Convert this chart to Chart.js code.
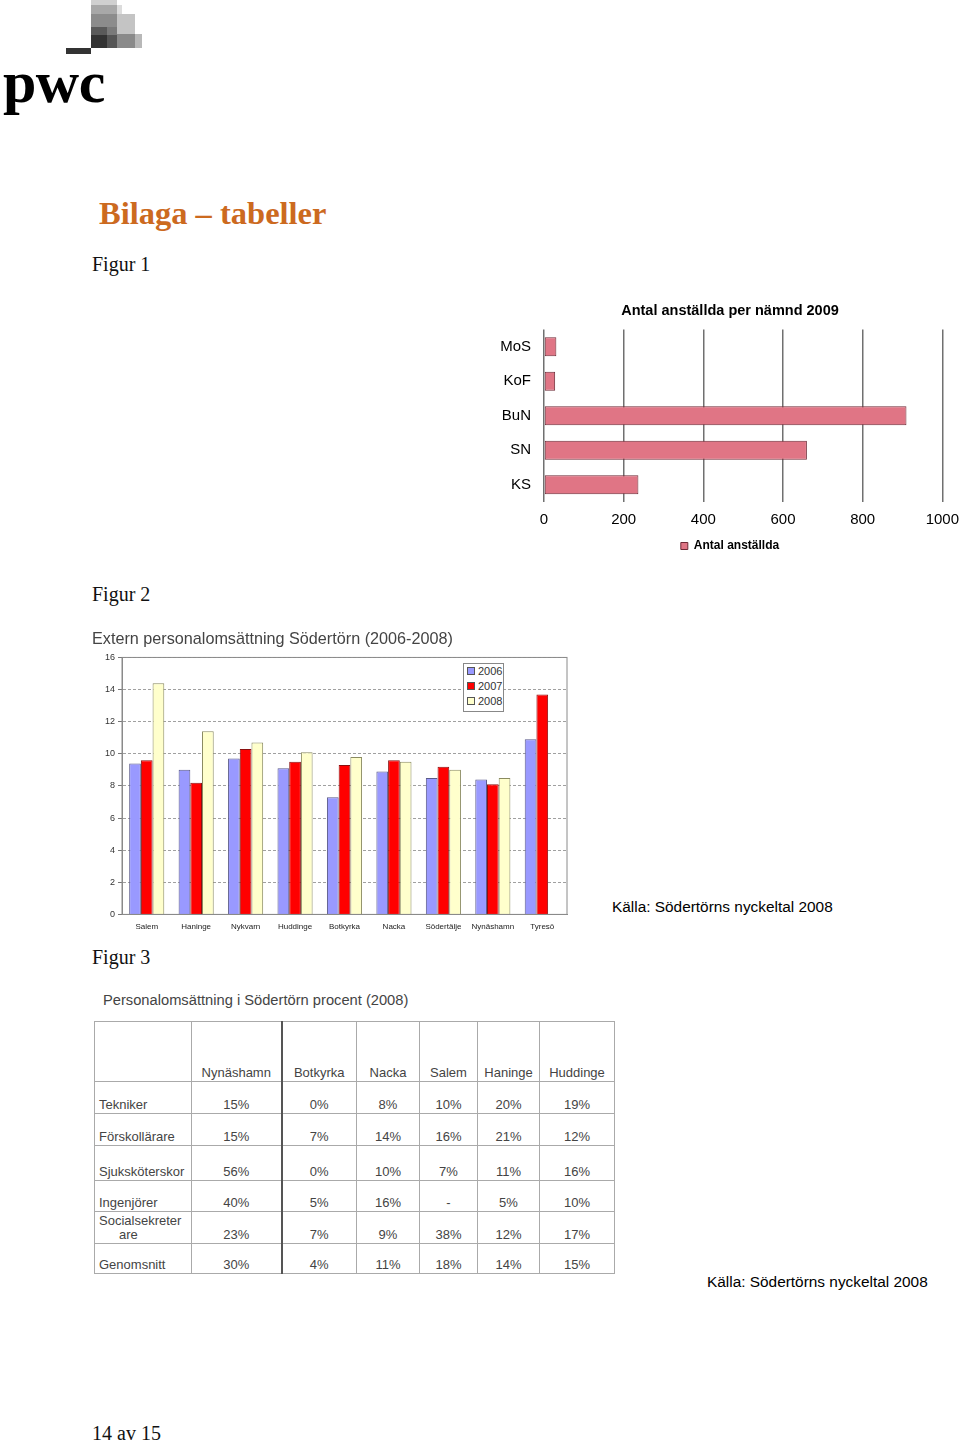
<!DOCTYPE html>
<html>
<head>
<meta charset="utf-8">
<script src="https://cdn.jsdelivr.net/npm/chart.js@4.4.1/dist/chart.umd.min.js"></script>
<style>
  html, body { margin: 0; padding: 0; background: #fff; }
  body { width: 960px; height: 1442px; position: relative; overflow: hidden; font-family: "Liberation Sans", Arial, sans-serif; }
  .abs { position: absolute; }
  .sq { position: absolute; }
  .serif { font-family: "Liberation Serif", "DejaVu Serif", serif; line-height: 1; white-space: nowrap; }
  .sans { font-family: "Liberation Sans", Arial, sans-serif; line-height: 1; white-space: nowrap; }
  #legend2 { position: absolute; left: 463px; top: 663px; width: 39px; height: 47px; border: 1px solid #888; background: #fff; font: 11px "Liberation Sans", Arial, sans-serif; color: #333; }
  #legend2 div { height: 15px; line-height: 15px; padding-left: 3px; white-space: nowrap; }
  #legend2 span { display: inline-block; width: 6px; height: 6px; border: 1px solid #555; margin-right: 3px; vertical-align: 0px; }
  #tbl { position: absolute; left: 94px; top: 1021px; border-collapse: collapse; table-layout: fixed; width: 520px; font: 13px "Liberation Sans", Arial, sans-serif; color: #444; }
  #tbl td { border: 1px solid #aaa; padding: 0 0 1px 0; vertical-align: bottom; text-align: center; line-height: 14px; overflow: visible; white-space: nowrap; }
  #tbl td.lbl { text-align: left; padding-left: 4px; }
  #tbl td.thick { border-right: 2px solid #555; }
</style>
</head>
<body>

<!-- logo -->
<div class="sq" style="left:91px;top:0;width:26px;height:5px;background:#d0d0d0"></div>
<div class="sq" style="left:91px;top:5px;width:26px;height:9px;background:#a8a8a8"></div>
<div class="sq" style="left:117px;top:5px;width:5px;height:9px;background:#dcdcdc"></div>
<div class="sq" style="left:91px;top:14px;width:26px;height:13px;background:#8c8c8c"></div>
<div class="sq" style="left:117px;top:14px;width:18px;height:20px;background:#c4c4c4"></div>
<div class="sq" style="left:91px;top:27px;width:16px;height:8px;background:#5a5a5a"></div>
<div class="sq" style="left:107px;top:27px;width:10px;height:8px;background:#7a7a7a"></div>
<div class="sq" style="left:91px;top:35px;width:16px;height:13px;background:#333"></div>
<div class="sq" style="left:107px;top:35px;width:10px;height:13px;background:#555"></div>
<div class="sq" style="left:117px;top:34px;width:18px;height:14px;background:#8a8a8a"></div>
<div class="sq" style="left:135px;top:34px;width:7px;height:14px;background:#b8b8b8"></div>
<div class="sq" style="left:66px;top:48px;width:25px;height:6px;background:#333"></div>
<div class="abs serif" style="left:3px;top:52px;font-size:60px;font-weight:bold;color:#000;letter-spacing:-0.5px">pwc</div>

<div class="abs serif" style="left:99px;top:197px;font-size:32.5px;font-weight:bold;color:#cc6a1f">Bilaga – tabeller</div>
<div class="abs serif" style="left:92px;top:254px;font-size:20px;color:#111">Figur 1</div>
<div class="abs serif" style="left:92px;top:584px;font-size:20px;color:#111">Figur 2</div>
<div class="abs serif" style="left:92px;top:947px;font-size:20px;color:#111">Figur 3</div>
<div class="abs serif" style="left:92px;top:1423px;font-size:20px;color:#111">14 av 15</div>

<div class="abs" style="left:480px;top:298px;width:488px;height:264px"><canvas id="fig1"></canvas></div>
<div class="abs" style="left:88px;top:628px;width:487px;height:304px"><canvas id="fig2"></canvas></div>
<div id="legend2"></div>

<div class="abs sans" style="left:612px;top:899px;font-size:15.4px;color:#000">Källa: Södertörns nyckeltal 2008</div>

<div class="abs sans" style="left:103px;top:993px;font-size:14.7px;color:#444">Personalomsättning i Södertörn procent (2008)</div>
<table id="tbl"></table>

<div class="abs sans" style="left:707px;top:1274px;font-size:15.4px;color:#000">Källa: Södertörns nyckeltal 2008</div>

<script>
// Figur 1
var namnder = ['MoS', 'KoF', 'BuN', 'SN', 'KS'];
var anstallda = [31, 28, 910, 660, 237];
var anstalldaTicks = [0, 200, 400, 600, 800, 1000];

// Figur 2
var kommuner = ['Salem', 'Haninge', 'Nykvarn', 'Huddinge', 'Botkyrka', 'Nacka', 'Södertälje', 'Nynäshamn', 'Tyresö'];
var ar = ['2006', '2007', '2008'];
var oms2006 = [9.4, 9.0, 9.7, 9.1, 7.3, 8.9, 8.5, 8.4, 10.9];
var oms2007 = [9.6, 8.2, 10.3, 9.5, 9.3, 9.6, 9.2, 8.1, 13.7];
var oms2008 = [14.4, 11.4, 10.7, 10.1, 9.8, 9.5, 9.0, 8.5, null];
var omsTicks = [0, 2, 4, 6, 8, 10, 12, 14, 16];

// Figur 3
var tabKommuner = ['Nynäshamn', 'Botkyrka', 'Nacka', 'Salem', 'Haninge', 'Huddinge'];
var yrken = ['Tekniker', 'Förskollärare', 'Sjuksköterskor', 'Ingenjörer', 'Socialsekreterare', 'Genomsnitt'];
var tekniker = ['15%', '0%', '8%', '10%', '20%', '19%'];
var forskollarare = ['15%', '7%', '14%', '16%', '21%', '12%'];
var sjukskoterskor = ['56%', '0%', '10%', '7%', '11%', '16%'];
var ingenjorer = ['40%', '5%', '16%', '-', '5%', '10%'];
var socialsekreterare = ['23%', '7%', '9%', '38%', '12%', '17%'];
var genomsnitt = ['30%', '4%', '11%', '18%', '14%', '15%'];

var sans = '"Liberation Sans", Arial, sans-serif';

new Chart(document.getElementById('fig1'), {
  type: 'bar',
  data: {
    labels: namnder,
    datasets: [{
      label: 'Antal anställda',
      data: anstallda,
      backgroundColor: '#e07585',
      borderColor: '#6e2a36',
      borderWidth: 1,
      borderSkipped: false,
      categoryPercentage: 0.55,
      barPercentage: 1.0
    }]
  },
  options: {
    indexAxis: 'y',
    responsive: true,
    maintainAspectRatio: false,
    animation: false,
    layout: { padding: { left: 12, right: 0, top: 0, bottom: 0 } },
    plugins: {
      title: {
        display: true,
        text: 'Antal anställda per nämnd 2009',
        color: '#000',
        font: { family: sans, size: 14.5, weight: 'bold' },
        padding: { top: 4, bottom: 10 }
      },
      legend: {
        position: 'bottom',
        labels: {
          color: '#000',
          font: { family: sans, size: 12, weight: 'bold' },
          boxWidth: 7,
          boxHeight: 7,
          padding: 2
        }
      },
      tooltip: { enabled: false }
    },
    scales: {
      x: {
        min: 0,
        max: 1000,
        afterBuildTicks: function (axis) {
          axis.ticks = anstalldaTicks.map(function (v) { return { value: v }; });
        },
        ticks: {
          color: '#000', font: { family: sans, size: 15 }, padding: 9,
          callback: function (v) { return String(v); }
        },
        grid: { color: '#707070', lineWidth: 1.5, drawTicks: false },
        border: { display: false }
      },
      y: {
        afterFit: function (axis) { axis.width = 52; },
        ticks: { color: '#000', font: { family: sans, size: 15 }, padding: 13 },
        grid: { display: false, drawTicks: false },
        border: { display: false }
      }
    }
  }
});

// frame around the plot area of figur 2
var frame = {
  id: 'frame',
  afterDraw: function (chart) {
    var a = chart.chartArea, c = chart.ctx;
    c.save();
    c.strokeStyle = '#8a8a8a';
    c.lineWidth = 1;
    c.strokeRect(a.left, a.top, a.right - a.left, a.bottom - a.top);
    c.restore();
  }
};

new Chart(document.getElementById('fig2'), {
  type: 'bar',
  data: {
    labels: kommuner,
    datasets: [
      { label: ar[0], data: oms2006, backgroundColor: '#9999ff', borderColor: '#5a5a8a' },
      { label: ar[1], data: oms2007, backgroundColor: '#ff0000', borderColor: '#8a1010' },
      { label: ar[2], data: oms2008, backgroundColor: '#ffffcc', borderColor: '#8a8a60' }
    ].map(function (d) {
      d.borderWidth = 1; d.borderSkipped = 'bottom';
      d.categoryPercentage = 0.71; d.barPercentage = 1.0;
      return d;
    })
  },
  options: {
    responsive: true,
    maintainAspectRatio: false,
    animation: false,
    layout: { padding: { left: 4, right: 8, top: 0, bottom: 0 } },
    plugins: {
      title: {
        display: true,
        align: 'start',
        text: 'Extern personalomsättning Södertörn (2006-2008)',
        color: '#444',
        font: { family: sans, size: 16.2, weight: 'normal' },
        padding: { top: 2, bottom: 8 }
      },
      legend: { display: false },
      tooltip: { enabled: false }
    },
    scales: {
      x: {
        ticks: { color: '#222', font: { family: sans, size: 8 }, padding: 0, maxRotation: 0, autoSkip: false },
        grid: { display: false },
        border: { color: '#8a8a8a' }
      },
      y: {
        min: 0,
        max: 16,
        afterBuildTicks: function (axis) {
          axis.ticks = omsTicks.map(function (v) { return { value: v }; });
        },
        afterFit: function (axis) { axis.width = 30; },
        ticks: { color: '#333', font: { family: sans, size: 9 }, padding: 3 },
        grid: { color: '#a0a0a0', tickLength: 4, tickColor: '#777', tickBorderDash: [] },
        border: { color: '#8a8a8a', dash: [3, 2] }
      }
    }
  },
  plugins: [frame]
});

// legend for figur 2
var legendColors = ['#9999ff', '#ff0000', '#ffffcc'];
document.getElementById('legend2').innerHTML = ar.map(function (y, i) {
  return '<div><span style="background:' + legendColors[i] + '"></span>' + y + '</div>';
}).join('');

// table for figur 3
var rows = [tekniker, forskollarare, sjukskoterskor, ingenjorer, socialsekreterare, genomsnitt];
var colW = [97, 90, 75, 63, 58, 62, 75];
var rowH = [60, 32, 32, 35, 31, 32, 30];
function cell(text, i) {
  var cls = (i === 0 ? 'lbl' : '') + (i === 1 ? ' thick' : '');
  return '<td class="' + cls + '">' + text + '</td>';
}
var html = '<colgroup>' + colW.map(function (w) { return '<col style="width:' + w + 'px">'; }).join('') + '</colgroup>';
html += '<tr style="height:' + rowH[0] + 'px">' + cell('', 0) +
  tabKommuner.map(function (k, i) { return cell(k, i + 1); }).join('') + '</tr>';
rows.forEach(function (r, j) {
  var name = yrken[j];
  if (name === 'Socialsekreterare') {
    name = 'Socialsekreter<br><span style="padding-left:20px">are</span>';
  }
  html += '<tr style="height:' + rowH[j + 1] + 'px">' + cell(name, 0) +
    r.map(function (v, i) { return cell(v, i + 1); }).join('') + '</tr>';
});
document.getElementById('tbl').innerHTML = html;
</script>
</body>
</html>
